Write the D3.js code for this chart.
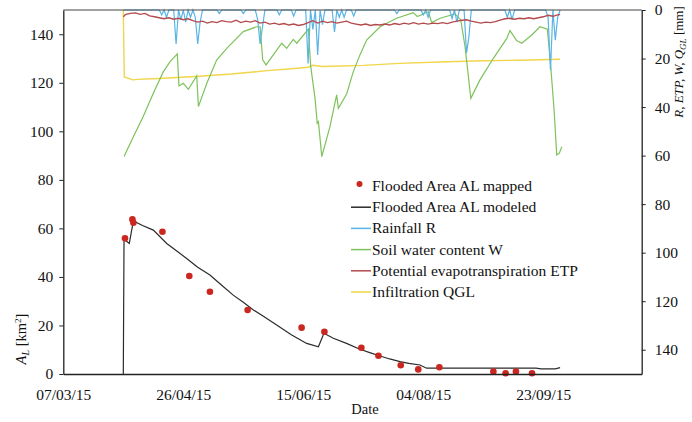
<!DOCTYPE html>
<html>
<head>
<meta charset="utf-8">
<script src="https://cdn.jsdelivr.net/npm/d3@7"></script>
<style>
  html, body { margin: 0; padding: 0; background: #fff; }
  svg { display: block; }
  text { font-family: "Liberation Serif", "Times New Roman", serif; fill: #111; }
</style>
</head>
<body>
<svg id="chart" width="692" height="422"></svg>
<script>
// ---- DATA (days are offsets from 07/03/2015) ----
const xTickDays = [0, 50, 100, 150, 200];
const leftTicks = [0, 20, 40, 60, 80, 100, 120, 140];
const rightTicks = [0, 20, 40, 60, 80, 100, 120, 140];

// Flooded area mapped (km2)
const mappedDays = [25.7, 28.8, 29.2, 41.3, 52.5, 61.1, 76.8, 99.3, 108.8, 124.2, 131.3, 140.6, 147.9, 156.7, 179.2, 184.3, 188.6, 195.3];
const mappedArea = [55.9, 63.7, 62.3, 58.6, 40.4, 33.9, 26.4, 19.1, 17.4, 10.8, 7.5, 3.6, 1.9, 2.8, 1.0, 0.3, 1.0, 0.3];

// Flooded area modeled (km2)
const modelDays = [25, 25.3, 27.5, 29.2, 33, 37.5, 43.1, 47, 51.4, 56, 61.1, 66, 70.8, 75, 79.2, 84, 88.9, 95, 101.4, 106.3, 108.6, 112.5, 118, 123.6, 128, 132, 136, 140.3, 144, 148.6, 151.4, 160, 170, 180, 190, 197, 199, 205, 207];
const modelArea = [0, 55.5, 53.8, 63.1, 61.2, 59.3, 53.8, 50.9, 47.6, 44.0, 40.8, 36.6, 32.5, 29.6, 26.4, 23.4, 20.2, 16.2, 12.6, 11.2, 16.8, 14.7, 12.6, 10.2, 8.7, 7.4, 6.2, 5.1, 4.4, 3.7, 2.4, 2.4, 2.4, 2.4, 2.4, 2.4, 2.1, 2.1, 2.6];

// Rainfall R (mm), rain days; other days of the record are 0
const rainStart = 25, rainEnd = 207;
const rainDays = [41, 43, 47, 49, 51, 53, 55, 56, 57, 65, 75, 81, 82, 83, 90, 96, 102, 104, 106, 108, 113, 115, 117, 121, 139, 150, 152, 162, 164, 168, 169, 185, 187, 202, 203, 205, 206];
const rainMM   = [2, 3, 14, 4, 5, 3, 3, 14, 5, 1.5, 1.5, 4, 14, 7, 2, 2.5, 22, 8, 18.5, 6, 9, 3, 3, 2.5, 1.5, 2, 3, 3.5, 5, 17.8, 11, 3, 4, 3, 24.7, 12.4, 3];

// Soil water content W (mm)
const soilDays = [25.3, 29.2, 33.3, 37.5, 41.7, 44.5, 47.5, 48.2, 50, 52.1, 55.6, 56.3, 59.8, 63.9, 68.1, 75, 80.6, 82, 83.1, 84.5, 87.5, 91, 93.1, 95.8, 97.3, 102.1, 103.1, 104.9, 105.8, 106.3, 107.7, 111.1, 113.9, 114.6, 118.1, 120.8, 123.6, 126.4, 132, 138.9, 145.8, 147.5, 152.1, 153.5, 157, 163.2, 165.6, 167.4, 168.8, 169.8, 173.6, 179.2, 184.8, 186.1, 188.9, 191, 195.2, 198.6, 201.7, 203.1, 204.5, 205.6, 206.7, 207.7];
const soilMM   = [60.4, 52.2, 43.9, 34.3, 25.4, 21.3, 18.1, 31.3, 30.2, 32.7, 27.2, 39.8, 30.2, 20.6, 15.8, 8.9, 6.9, 6.9, 20.6, 22.6, 18.5, 13.7, 15.8, 12.1, 13.7, 7.9, 23.3, 36.4, 46.7, 46.0, 60.4, 48.1, 35.0, 40.5, 34.5, 25.5, 18.5, 12.4, 6.9, 3.4, 1.1, 2.7, 0.7, 5.2, 3.4, 1.6, 4.1, 15.1, 27.5, 36.4, 28.8, 19.9, 11.7, 8.5, 12.6, 13.7, 10.3, 6.9, 7.9, 23.3, 41.2, 59.7, 59.0, 56.3];

// Potential evapotranspiration ETP (mm)
const etpDays = [25, 26, 28, 30, 32, 34, 36, 38, 40, 42, 44, 46, 48, 50, 52, 54, 56, 58, 60, 62, 64, 66, 68, 70, 72, 74, 76, 78, 80, 82, 84, 86, 88, 90, 92, 94, 96, 98, 100, 102, 104, 106, 108, 110, 112, 114, 116, 118, 120, 122, 124, 126, 128, 130, 132, 134, 136, 138, 140, 142, 144, 146, 148, 150, 152, 154, 156, 158, 160, 162, 164, 166, 168, 170, 172, 174, 176, 178, 180, 182, 184, 186, 188, 190, 192, 194, 196, 198, 200, 202, 204, 206, 207];
const etpMM   = [2.8, 1.8, 1.4, 1.2, 1.8, 1.4, 2.4, 2.8, 3.2, 3.6, 3.2, 3.8, 3.4, 4.0, 3.6, 4.4, 5.0, 4.6, 5.4, 4.8, 5.2, 4.4, 4.8, 5.0, 4.2, 5.2, 4.6, 5.0, 4.4, 5.4, 5.0, 5.8, 5.4, 6.0, 5.6, 6.2, 5.8, 6.4, 6.0, 5.2, 4.4, 5.4, 4.6, 5.2, 4.8, 5.4, 5.0, 4.6, 5.4, 5.8, 6.2, 5.8, 6.4, 6.0, 6.2, 5.8, 6.2, 5.6, 6.0, 5.4, 5.8, 5.2, 5.8, 5.4, 5.8, 5.4, 5.6, 5.2, 5.6, 5.0, 4.6, 4.2, 4.0, 4.6, 5.0, 5.4, 5.0, 5.2, 4.8, 4.2, 3.6, 3.4, 3.8, 3.4, 3.6, 3.2, 3.6, 3.2, 2.8, 2.2, 2.6, 2.0, 1.8];

// Infiltration QGL (mm)
const qglDays = [25, 25.4, 29, 31, 40, 55, 70, 85, 95, 102, 104, 108, 112, 125, 140, 160, 175, 190, 207];
const qglMM   = [0, 27.6, 28.8, 28.6, 28.2, 27.4, 26.4, 25.0, 24.2, 23.6, 22.8, 23.3, 23.2, 22.8, 22.0, 21.3, 20.9, 20.7, 20.3];

const legendLabels = ["Flooded Area AL mapped", "Flooded Area AL modeled", "Rainfall R", "Soil water content W", "Potential evapotranspiration ETP", "Infiltration QGL"];

// ---- CHART ----
const colors = { mapped: "#c9271f", modeled: "#2b2b2b", rain: "#5ab4e6", soil: "#7dc25a", etp: "#b34a4c", qgl: "#f1d54a" };
const start = Date.UTC(2015, 2, 7);
const toDate = d => new Date(start + d * 864e5);

const L = 63.3, R = 641.7, T = 10, B = 374;
const svg = d3.select("#chart");
const x = d3.scaleUtc().domain([toDate(0), toDate(241)]).range([L, R]);
const yL = d3.scaleLinear().domain([0, 150]).range([B, T]);
const yR = d3.scaleLinear().domain([0, 150]).range([T, B]);

const zip = (ds, vs) => ds.map((d, i) => [d, vs[i]]);

// rainfall daily series
const rainSeries = [];
for (let d = rainStart; d <= rainEnd; d++) {
  const k = rainDays.indexOf(d);
  rainSeries.push([d, k >= 0 ? rainMM[k] : 0]);
}

const lineR = d3.line().x(d => x(toDate(d[0]))).y(d => yR(d[1]));
const lineL = d3.line().x(d => x(toDate(d[0]))).y(d => yL(d[1]));

const g = svg.append("g");
g.append("path").datum(zip(qglDays, qglMM)).attr("d", lineR).attr("fill", "none").attr("stroke", colors.qgl).attr("stroke-width", 1.4);
g.append("path").datum(zip(soilDays, soilMM)).attr("d", lineR).attr("fill", "none").attr("stroke", colors.soil).attr("stroke-width", 1.2);
g.append("path").datum(rainSeries).attr("d", lineR).attr("fill", "none").attr("stroke", colors.rain).attr("stroke-width", 1.2);
g.append("path").datum(zip(etpDays, etpMM)).attr("d", lineR).attr("fill", "none").attr("stroke", colors.etp).attr("stroke-width", 1.4);
g.append("path").datum(zip(modelDays, modelArea)).attr("d", lineL).attr("fill", "none").attr("stroke", colors.modeled).attr("stroke-width", 1.2);
g.selectAll("circle.m").data(zip(mappedDays, mappedArea)).join("circle")
  .attr("cx", d => x(toDate(d[0]))).attr("cy", d => yL(d[1])).attr("r", 3.3).attr("fill", colors.mapped);

// frame top line
svg.append("line").attr("x1", L).attr("x2", R).attr("y1", T).attr("y2", T).attr("stroke", "#444").attr("stroke-width", 1.2);

// axes
const fmt = d3.utcFormat("%d/%m/%y");
const xAxis = svg.append("g").attr("transform", `translate(0,${B})`)
  .call(d3.axisBottom(x).tickValues(xTickDays.map(toDate)).tickFormat(fmt).tickSize(0).tickPadding(15));
const yAxisL = svg.append("g").attr("transform", `translate(${L},0)`)
  .call(d3.axisLeft(yL).tickValues(leftTicks).tickSize(4).tickSizeOuter(0).tickPadding(6));
const yAxisR = svg.append("g").attr("transform", `translate(${R},0)`)
  .call(d3.axisRight(yR).tickValues(rightTicks).tickSize(4).tickSizeOuter(0).tickPadding(9));
[xAxis, yAxisL, yAxisR].forEach(a => {
  a.selectAll("text").style("font-size", "15.5px").style("font-family", "'Liberation Serif', serif").attr("fill", "#111");
  a.select(".domain").attr("stroke", "#222").attr("stroke-width", 1.3);
  a.selectAll(".tick line").attr("stroke", "#222");
});

// axis titles
svg.append("text").attr("x", 365).attr("y", 414).attr("text-anchor", "middle").style("font-size", "14.5px").text("Date");

const lt = svg.append("text").attr("transform", "translate(26,339) rotate(-90)").attr("text-anchor", "middle").style("font-size", "14.5px");
lt.append("tspan").style("font-style", "italic").text("A");
lt.append("tspan").style("font-style", "italic").style("font-size", "10px").attr("dy", 3).text("L");
lt.append("tspan").attr("dy", -3).text(" [km");
lt.append("tspan").style("font-size", "9px").attr("dy", -5).text("2");
lt.append("tspan").attr("dy", 5).text("]");

const rt = svg.append("text").attr("transform", "translate(683,62) rotate(-90)").attr("text-anchor", "middle").style("font-size", "13px");
rt.append("tspan").style("font-style", "italic").text("R, ETP, W, Q");
rt.append("tspan").style("font-style", "italic").style("font-size", "9px").attr("dy", 3).text("GL");
rt.append("tspan").attr("dy", -3).text(" [mm]");

// legend
const legY0 = 186, legDy = 21.2;
const leg = svg.append("g");
legendLabels.forEach((lab, i) => {
  const yy = legY0 + i * legDy;
  if (i === 0) {
    leg.append("circle").attr("cx", 359.5).attr("cy", yy - 2).attr("r", 3).attr("fill", colors.mapped);
  } else {
    const c = [null, colors.modeled, colors.rain, colors.soil, colors.etp, colors.qgl][i];
    leg.append("line").attr("x1", 351).attr("x2", 371).attr("y1", yy).attr("y2", yy).attr("stroke", c).attr("stroke-width", 1.5);
  }
  leg.append("text").attr("x", 372).attr("y", yy + 5).style("font-size", "15.5px").text(lab);
});
</script>
</body>
</html>
